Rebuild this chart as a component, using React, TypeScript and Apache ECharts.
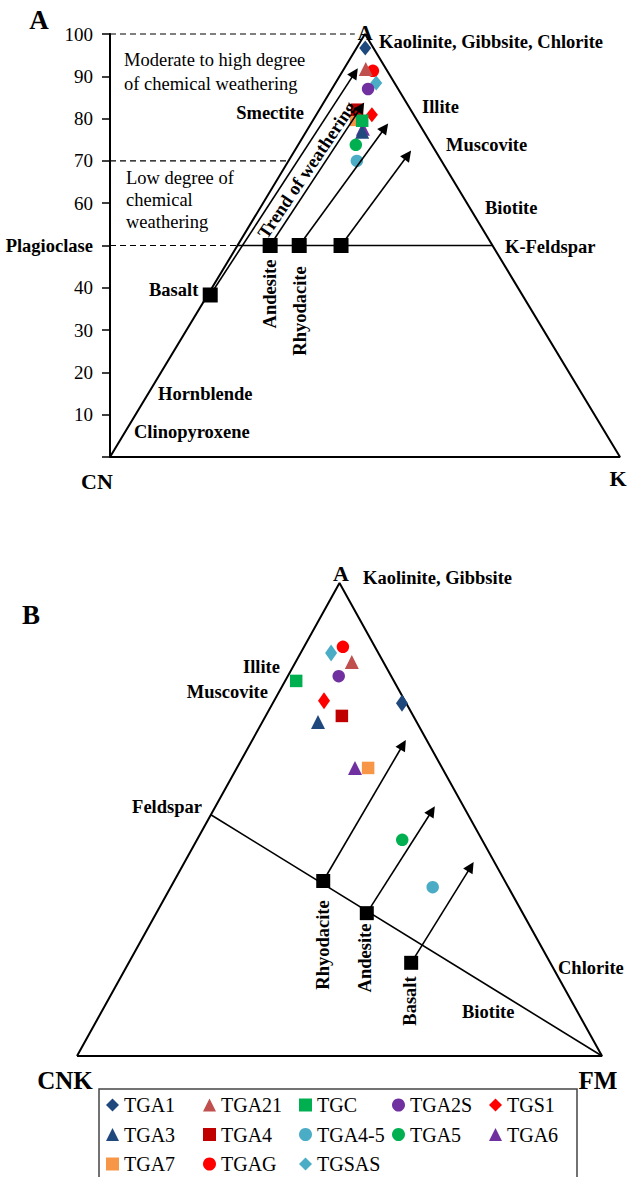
import React, { useEffect, useRef } from "react";
import * as echarts from "echarts";

// Samples shared by both ternary diagrams
const SAMPLES = ["TGA1", "TGA21", "TGC", "TGA2S", "TGS1", "TGA3", "TGA4", "TGA4-5", "TGA5", "TGA6", "TGA7", "TGAG", "TGSAS"];
const SYMBOLS = ["diamond", "triangle", "rect", "circle", "diamond", "triangle", "rect", "circle", "circle", "triangle", "rect", "circle", "diamond"];
const COLORS = ["#1F497D", "#C0504D", "#00B050", "#7030A0", "#FF0000", "#1F497D", "#C00000", "#4BACC6", "#00B050", "#7030A0", "#F79646", "#FF0000", "#4BACC6"];

// A–CN–K diagram (molar %): A and K, CN is the remainder
const ACNK_A = [96.7, 91.7, 79.5, 87.0, 80.9, 76.9, 82.1, 70.0, 73.8, 77.6, 79.7, 91.3, 88.4];
const ACNK_K = [1.7, 4.3, 9.7, 7.1, 10.9, 11.0, 7.4, 13.4, 11.3, 10.8, 8.4, 5.9, 8.0];

// A–CNK–FM diagram (molar %): A and FM, CNK is the remainder
const AFM_A = [74.6, 83.3, 79.3, 80.3, 75.1, 70.6, 71.9, 35.7, 45.7, 60.9, 60.9, 86.5, 85.2];
const AFM_FM = [24.6, 10.7, 2.1, 9.7, 9.5, 10.6, 14.5, 49.9, 39.1, 22.5, 25.0, 7.4, 5.8];

// Fresh rocks and their weathering-trend end points, A–CN–K
const ROCK_A_A = [38.3, 50, 50, 50];
const ROCK_A_K = [0.5, 6.4, 12.1, 20.3];
const TREND_A_A = [90.8, 82.7, 77.8, 71.4];
const TREND_A_K = [2.6, 7.9, 15.0, 22.7];

// Fresh rocks and their weathering-trend end points, A–CNK–FM
const ROCK_B_A = [37.0, 30.2, 19.7];
const ROCK_B_FM = [28.4, 40.1, 53.8];
const TREND_B_A = [65.8, 51.8, 40.0];
const TREND_B_FM = [29.2, 41.7, 55.0];

// Reference compositions (A value)
const PLAGIOCLASE_A = 50;
const LOW_WEATHERING_A = 70;
const FELDSPAR_B_A = 51;

const Y_MIN = 0;
const Y_MAX = 100;
const Y_STEP = 10;

const SERIF = "Liberation Serif";

// ternary (A, right-corner component) -> triangle x/y
const tern = (a: number, r: number) => [r + a / 2, a];

function txt(text: string, x: number, y: number, o: any = {}) {
  return {
    type: "text",
    x,
    y,
    rotation: o.rotation || 0,
    z: 50,
    style: {
      text,
      fill: "#000",
      fontFamily: SERIF,
      fontSize: o.size || 18.5,
      fontWeight: o.bold === false ? "normal" : "bold",
      align: o.align || "left",
      verticalAlign: "middle",
    },
  };
}

function edge(grid: number, pts: number[][], extra: any = {}) {
  return {
    type: "line",
    xAxisIndex: grid,
    yAxisIndex: grid,
    data: pts,
    symbol: "none",
    silent: true,
    clip: false,
    z: 1,
    lineStyle: { color: "#000", width: 2, ...extra },
  };
}

export default function App() {
  const ref = useRef<HTMLDivElement>(null);

  useEffect(() => {
    if (!ref.current) return;
    const chart = echarts.init(ref.current, null, { renderer: "svg" });

    const markerSize = (s: string, big: boolean) =>
      s === "diamond" ? (big ? [12, 17] : [12, 15]) : s === "triangle" ? 14 : 12.5;

    const samplesA = SAMPLES.map((name, i) => ({
      type: "scatter",
      name,
      xAxisIndex: 0,
      yAxisIndex: 0,
      symbol: SYMBOLS[i],
      symbolSize: markerSize(SYMBOLS[i], false),
      itemStyle: { color: COLORS[i], opacity: 1 },
      data: [tern(ACNK_A[i], ACNK_K[i])],
      z: 3,
    })).reverse();

    const samplesB = SAMPLES.map((name, i) => ({
      type: "scatter",
      name,
      xAxisIndex: 1,
      yAxisIndex: 1,
      symbol: SYMBOLS[i],
      symbolSize: markerSize(SYMBOLS[i], true),
      itemStyle: { color: COLORS[i], opacity: 1 },
      data: [tern(AFM_A[i], AFM_FM[i])],
      z: 3,
    }));

    const arrows = (grid: number, ra: number[], rr: number[], ta: number[], tr: number[]) => ({
      type: "lines",
      coordinateSystem: "cartesian2d",
      xAxisIndex: grid,
      yAxisIndex: grid,
      symbol: ["none", "triangle"],
      symbolSize: 11,
      silent: true,
      z: 4,
      lineStyle: { color: "#000", width: 1.6, opacity: 1 },
      data: ra.map((a, i) => ({ coords: [tern(a, rr[i]), tern(ta[i], tr[i])] })),
    });

    const rocks = (grid: number, ra: number[], rr: number[], size: number) => ({
      type: "scatter",
      xAxisIndex: grid,
      yAxisIndex: grid,
      symbol: "rect",
      symbolSize: size,
      itemStyle: { color: "#000", opacity: 1 },
      silent: true,
      z: 5,
      data: ra.map((a, i) => tern(a, rr[i])),
    });

    const legendCols = [0, 1, 2, 3, 4].map((c) => SAMPLES.filter((_, i) => i % 5 === c));
    const legendLefts = [106, 203, 299, 392, 489];

    const option: any = {
      animation: false,
      textStyle: { fontFamily: SERIF },
      grid: [
        { left: 110, top: 34, width: 510, height: 423 },
        { left: 77, top: 583, width: 525, height: 473 },
      ],
      xAxis: [
        { type: "value", gridIndex: 0, min: 0, max: 100, show: false },
        { type: "value", gridIndex: 1, min: 0, max: 100, show: false },
      ],
      yAxis: [
        {
          type: "value",
          gridIndex: 0,
          min: Y_MIN,
          max: Y_MAX,
          interval: Y_STEP,
          splitLine: { show: false },
          axisLine: { show: true, lineStyle: { color: "#000", width: 2 } },
          axisTick: { show: true, inside: false, length: 8, lineStyle: { color: "#000", width: 1.5 } },
          axisLabel: {
            margin: 17,
            color: "#000",
            fontFamily: SERIF,
            fontSize: 19,
            formatter: (v: number) =>
              v === Y_MIN ? "" : v === PLAGIOCLASE_A ? "{b|Plagioclase}" : String(v),
            rich: { b: { fontWeight: "bold", fontSize: 18.5, fontFamily: SERIF, color: "#000" } },
          },
        },
        { type: "value", gridIndex: 1, min: 0, max: 100, show: false },
      ],
      legend: legendCols.map((names, c) => ({
        orient: "vertical",
        left: legendLefts[c],
        top: 1094,
        padding: 0,
        itemWidth: 13,
        itemHeight: 13,
        itemGap: 7.5,
        selectedMode: false,
        data: names,
        textStyle: { fontFamily: SERIF, fontSize: 20, color: "#000", lineHeight: 22 },
      })),
      series: [
        // A–CN–K frame
        edge(0, [[0, 0], [50, 100], [100, 0], [0, 0]]),
        edge(0, [[0, 100], [48, 100]], { width: 1.2, type: [6, 4] }),
        edge(0, [[0, LOW_WEATHERING_A], [LOW_WEATHERING_A / 2, LOW_WEATHERING_A]], { width: 1.2, type: [6, 4] }),
        edge(0, [[0, PLAGIOCLASE_A], [PLAGIOCLASE_A / 2, PLAGIOCLASE_A]], { width: 1.2, type: [6, 4] }),
        edge(0, [[PLAGIOCLASE_A / 2, PLAGIOCLASE_A], [100 - PLAGIOCLASE_A / 2, PLAGIOCLASE_A]], { width: 1.6 }),
        arrows(0, ROCK_A_A, ROCK_A_K, TREND_A_A, TREND_A_K),
        rocks(0, ROCK_A_A, ROCK_A_K, 15),
        ...samplesA,
        // A–CNK–FM frame
        edge(1, [[0, 0], [50, 100], [100, 0], [0, 0]]),
        edge(1, [tern(FELDSPAR_B_A, 0), tern(0, 100)], { width: 1.6 }),
        arrows(1, ROCK_B_A, ROCK_B_FM, TREND_B_A, TREND_B_FM),
        rocks(1, ROCK_B_A, ROCK_B_FM, 14),
        ...samplesB,
      ],
      graphic: [
        // diagram A
        txt("A", 39, 20, { size: 27, align: "center" }),
        txt("A", 365, 33, { size: 21, align: "center" }),
        txt("Kaolinite, Gibbsite, Chlorite", 379, 42),
        txt("Moderate to high degree", 124, 60, { bold: false }),
        txt("of chemical weathering", 124, 84, { bold: false }),
        txt("Smectite", 304, 113, { align: "right" }),
        txt("Illite", 422, 107),
        txt("Muscovite", 446, 145),
        txt("Biotite", 485, 208),
        txt("K-Feldspar", 505, 247),
        txt("Low degree of", 126, 178, { bold: false }),
        txt("chemical", 126, 200, { bold: false }),
        txt("weathering", 126, 222, { bold: false }),
        txt("Trend of weathering", 307, 170, { align: "center", rotation: (56 * Math.PI) / 180 }),
        txt("Basalt", 149, 290),
        txt("Andesite", 270, 294, { align: "center", rotation: Math.PI / 2 }),
        txt("Rhyodacite", 300, 311, { align: "center", rotation: Math.PI / 2 }),
        txt("Hornblende", 158, 394),
        txt("Clinopyroxene", 134, 432),
        txt("CN", 97, 481, { size: 22, align: "center" }),
        txt("K", 618, 478, { size: 22, align: "center" }),
        // diagram B
        txt("B", 31, 615, { size: 27, align: "center" }),
        txt("A", 341, 573, { size: 22, align: "center" }),
        txt("Kaolinite, Gibbsite", 363, 578),
        txt("Illite", 243, 667),
        txt("Muscovite", 268, 692, { align: "right" }),
        txt("Feldspar", 202, 807, { align: "right" }),
        txt("Chlorite", 558, 968),
        txt("Biotite", 462, 1012),
        txt("Rhyodacite", 323, 945, { align: "center", rotation: Math.PI / 2 }),
        txt("Andesite", 365, 958, { align: "center", rotation: Math.PI / 2 }),
        txt("Basalt", 410, 1001, { align: "center", rotation: Math.PI / 2 }),
        txt("CNK", 65, 1080, { size: 25, align: "center" }),
        txt("FM", 598, 1080, { size: 25, align: "center" }),
        // legend frame
        {
          type: "rect",
          shape: { x: 99, y: 1089, width: 478, height: 110 },
          style: { fill: "none", stroke: "#444", lineWidth: 1.5 },
          z: 0,
        },
      ],
    };

    chart.setOption(option);
    return () => chart.dispose();
  }, []);

  return (
    <div
      ref={ref}
      style={{ position: "absolute", left: 0, top: 0, width: 627, height: 1177, background: "#fff" }}
    />
  );
}
